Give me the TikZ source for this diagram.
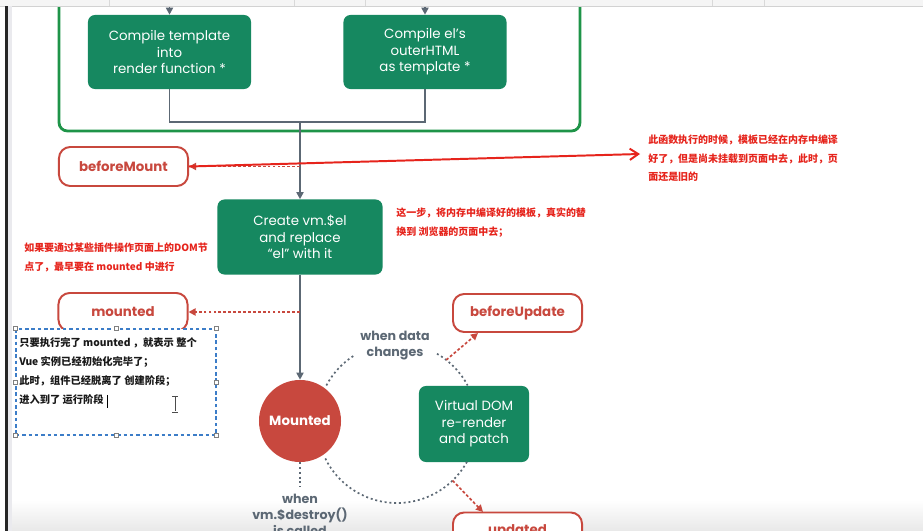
\documentclass[tikz,border=0pt]{standalone}
\usepackage{fontspec}
\setmainfont{Poppins}
\newfontfamily\cjk{Noto Sans CJK SC}
\usetikzlibrary{arrows.meta,positioning}
\definecolor{stagegreen}{RGB}{22,136,96}
\definecolor{framegreen}{RGB}{30,148,72}
\definecolor{hookred}{RGB}{200,72,62}
\definecolor{notered}{RGB}{230,36,28}
\definecolor{flowgray}{RGB}{92,104,116}
\definecolor{selblue}{RGB}{60,125,200}
\begin{document}
\begin{tikzpicture}[x=0.025cm,y=-0.025cm,
    stage/.style={fill=stagegreen,text=white,rounded corners=5pt,align=center,inner sep=0pt,font=\fontsize{9.5}{11.7}\selectfont},
    hook/.style={draw=hookred,line width=1.4pt,fill=white,rounded corners=8pt,text=hookred,inner sep=0pt,minimum width=3.225cm,minimum height=0.95cm,font=\bfseries\fontsize{9.5}{11}\selectfont},
    flow/.style={draw=flowgray,line width=1.2pt},
    flow arrow/.style={flow,-{Triangle[length=5pt,width=5pt]}},
    hook arrow/.style={draw=hookred,line width=1.2pt,dash pattern=on 2pt off 1.5pt,-{Triangle[length=5pt,width=5pt]}},
    loop line/.style={draw=flowgray,line width=1.2pt,dash pattern=on 1.4pt off 2pt},
    loop text/.style={text=flowgray,align=center,inner sep=0pt,font=\bfseries\fontsize{9}{11.3}\selectfont},
    note/.style={text=notered,align=left,anchor=north west,inner sep=0pt,font=\cjk\bfseries\fontsize{7.1}{13.1}\selectfont},
    handle/.style={draw=gray,fill=white,line width=0.4pt,minimum size=3pt,inner sep=0pt}]
  \useasboundingbox (0,0) rectangle (923,531);
  \fill[white] (0,0) rectangle (923,531); % page
  \shade[top color=white,bottom color=gray!18] (12,500) rectangle (923,531); % bottom band
  % green frame round the two compile steps
  \draw[framegreen,line width=2pt,rounded corners=6pt] (59,-30) rectangle (580,131);
  \node[stage,minimum width=4.075cm,minimum height=1.85cm] (tmpl) at (169.5,52) {Compile template\\into\\render function *};
  \node[stage,minimum width=4.075cm,minimum height=1.85cm] (outer) at (425,52) {Compile el's\\outerHTML\\as template *};
  \coordinate (tmplIn) at (169.5,0);
  \coordinate (outerIn) at (425,0);
  \draw[flow arrow] (tmplIn) -- (tmpl.north);
  \draw[flow arrow] (outerIn) -- (outer.north);
  \coordinate (join) at (300,122);
  \draw[flow] (tmpl.south) |- (join);
  \draw[flow] (outer.south) |- (join);
  % mounting
  \node[stage,minimum width=4.125cm,minimum height=1.875cm] (create) at (300,237) {Create vm.\$el\\and replace\\``el'' with it};
  \draw[flow arrow] (join) -- (create.north);
  \node[hook,minimum width=3.225cm,minimum height=0.975cm] (bm) at (123.5,166.5) {beforeMount};
  \coordinate (bmTap) at (300,166.5);
  \draw[hook arrow] (bmTap) -- (bm.east);
  \node[circle,fill=hookred,text=white,minimum size=2.05cm,inner sep=0pt,font=\bfseries\fontsize{9.5}{11}\selectfont] (mnt) at (300,421) {Mounted};
  \draw[flow arrow] (create.south) -- (mnt.north);
  \node[hook,minimum height=0.95cm] (mh) at (123,312) {mounted};
  \coordinate (mTap) at (300,312);
  \draw[hook arrow] (mTap) -- (mh.east);
  % update loop
  \coordinate (loop) at (397,423);
  \node[stage,minimum width=2.75cm,minimum height=1.9cm] (vdom) at (474,424) {Virtual DOM\\re-render\\and patch};
  \draw[loop line] ([shift={(loop)}]-152:80) arc[start angle=-152,end angle=-122,radius=80];
  \draw[loop line] ([shift={(loop)}]-60:80) arc[start angle=-60,end angle=-28,radius=80];
  \draw[loop line] ([shift={(loop)}]29:80) arc[start angle=29,end angle=154,radius=80];
  \node[loop text] (changes) at (395,346) {when data\\changes};
  \node[hook] (bu) at (517.5,313) {beforeUpdate};
  \node[hook] (upd) at (517.5,531.5) {updated};
  \coordinate (buTip) at (478,333);
  \coordinate (updTip) at (483,512);
  \draw[hook arrow] ([shift={(loop)}]-52:80) -- (buTip);
  \draw[hook arrow] ([shift={(loop)}]46:80) -- (updTip);
  % teardown
  \node[loop text,anchor=north] (destroy) at (300,494) {when\\vm.\$destroy()\\is called};
  \coordinate (destroyEnd) at (300,487);
  \draw[loop line] (mnt.south) -- (destroyEnd);
  % notes
  \node[note] (noteA) at (648,135) {此函数执行的时候，模板已经在内存中编译\\好了，但是尚未挂载到页面中去，此时，页\\面还是旧的};
  \coordinate (noteTip) at (640,154);
  \draw[notered,line width=1.4pt,-{Straight Barb[length=6pt,width=8pt]}] (bm.east) -- (noteTip);
  \node[note] (noteB) at (396,208) {这一步，将内存中编译好的模板，真实的替\\换到 浏览器的页面中去；};
  \node[note] (noteC) at (24,243) {如果要通过某些插件操作页面上的DOM节\\点了，最早要在 mounted 中进行};
  % selected text box
  \node[draw=selblue,fill=white,line width=0.8pt,dash pattern=on 2.5pt off 2pt,minimum width=5cm,minimum height=2.65cm] (sel) at (116,382) {};
  \foreach \a in {north west,north,north east,west,east,south west,south,south east}
    \node[handle] at (sel.\a) {};
  \node[note,text=black!90,font=\cjk\bfseries\fontsize{7.3}{13.7}\selectfont] (selText) at (19,337) {只要执行完了 mounted ，就表示 整个\\Vue 实例已经初始化完毕了；\\此时，组件已经脱离了 创建阶段；\\进入到了 运行阶段};
  \draw[black,line width=0.7pt] (107,395) -- (107,408); % text cursor
  \draw[black!70,line width=0.6pt] (175,397) -- (175,411) (172,396) -- (178,396) (172,412) -- (178,412); % mouse beam
  % window chrome
  \fill[gray!8] (0,0) rectangle (923,6);
  \draw[gray!35,line width=0.6pt] (0,6) -- (923,6);
  \foreach \dx in {109,294,365,712,764}
    \draw[gray!30,line width=0.5pt] (\dx,0) -- (\dx,6);
  \fill[black!85] (5,6) rectangle (7.5,531);
  \fill[blue!10!gray!15] (7.5,6) rectangle (12,531);
\end{tikzpicture}
\end{document}
